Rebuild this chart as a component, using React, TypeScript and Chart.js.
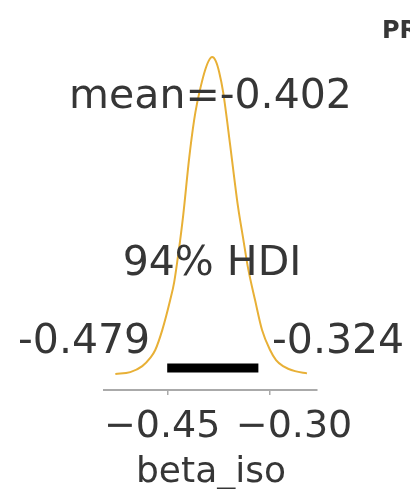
import React, { useEffect, useRef } from "react";
import { Chart, registerables } from "chart.js";

Chart.register(...registerables);

// Posterior density of beta_iso (x value, density)
const curveX = [
  -0.5279, -0.5059, -0.4882, -0.4765, -0.4691, -0.4588, -0.4471, -0.4412, -0.4353,
  -0.4279, -0.4191, -0.4118, -0.4074, -0.4015, -0.3956, -0.3904, -0.3853, -0.3801,
  -0.375, -0.3691, -0.3588, -0.3529, -0.3471, -0.3397, -0.3324, -0.3221, -0.3118,
  -0.3, -0.2912, -0.2809, -0.2632, -0.2456,
];
const curveY = [
  0.0, 0.06, 0.25, 0.51, 0.76, 1.39, 2.34, 2.91, 3.77, 5.03, 6.84, 8.04, 8.58, 9.15,
  9.62, 9.91, 10.03, 9.91, 9.56, 8.92, 7.25, 6.23, 5.28, 4.3, 3.35, 2.34, 1.39, 0.76,
  0.44, 0.25, 0.09, 0.02,
];
// HDI bar as drawn
const hdiBarX = [-0.4515, -0.3172];
const hdiBarY = 0.19;
// Axis
const xMin = -0.5446;
const xMax = -0.2313;
const yMin = -0.506;
const yMax = 10.57;
const tickValues = [-0.45, -0.3];
const tickLabels = ["\u22120.45", "\u22120.30"];
// Texts
const meanLabel = "mean=-0.402";
const hdiLabel = "94% HDI";
const hdiLowLabel = "-0.479";
const hdiHighLabel = "-0.324";
const axisLabel = "beta_iso";
const titleFragment = "PR";

const FONT = "'DejaVu Sans', sans-serif";
const TEXT_COLOR = "#363636";

export default function App() {
  const ref = useRef<HTMLCanvasElement | null>(null);

  useEffect(() => {
    document.body.style.margin = "0";
    const canvas = ref.current!;
    const textPlugin = {
      id: "texts",
      afterDatasetsDraw(chart: any) {
        const ctx = chart.ctx as CanvasRenderingContext2D;
        const xs = chart.scales.x;
        ctx.save();
        ctx.fillStyle = TEXT_COLOR;
        ctx.textBaseline = "alphabetic";
        ctx.font = `41px ${FONT}`;
        ctx.textAlign = "center";
        ctx.fillText(meanLabel, 210.5, 108);
        ctx.fillText(hdiLabel, 212, 275);
        ctx.textAlign = "left";
        ctx.fillText(hdiLowLabel, 18, 353);
        ctx.fillText(hdiHighLabel, 272, 353);
        // tick labels
        ctx.font = `38px ${FONT}`;
        ctx.textAlign = "center";
        const labelShift = [-6, 24];
        tickValues.forEach((v, i) => {
          ctx.fillText(tickLabels[i], xs.getPixelForValue(v) + labelShift[i], 437);
        });
        ctx.font = `36px ${FONT}`;
        ctx.fillText(axisLabel, 211, 482);
        ctx.font = `bold 24px ${FONT}`;
        ctx.textAlign = "left";
        ctx.fillText(titleFragment, 382, 38);
        ctx.restore();
      },
    };

    const chart = new Chart(canvas, {
      type: "line",
      data: {
        datasets: [
          {
            data: curveX.map((x, i) => ({ x, y: curveY[i] })),
            borderColor: "#e8b036",
            borderWidth: 2,
            pointRadius: 0,
            cubicInterpolationMode: "monotone",
            fill: false,
          },
          {
            data: hdiBarX.map((x) => ({ x, y: hdiBarY })),
            borderColor: "#000000",
            borderWidth: 9,
            pointRadius: 0,
            borderCapStyle: "butt",
            fill: false,
          },
        ],
      },
      options: {
        animation: false,
        responsive: false,
        maintainAspectRatio: false,
        layout: { padding: { left: 104, right: 93.3, top: 40, bottom: 0 } },
        plugins: { legend: { display: false }, tooltip: { enabled: false } },
        scales: {
          x: {
            type: "linear",
            min: xMin,
            max: xMax,
            afterBuildTicks: (s: any) => {
              s.ticks = tickValues.map((value) => ({ value }));
            },
            afterFit: (s: any) => {
              s.height = 99;
            },
            grid: {
              display: true,
              drawOnChartArea: false,
              drawTicks: true,
              tickLength: 5,
              tickColor: "#aaaaaa",
              lineWidth: 1.5,
            },
            border: { display: true, color: "#aaaaaa", width: 2 },
            ticks: { display: false },
          },
          y: {
            type: "linear",
            display: false,
            min: yMin,
            max: yMax,
          },
        },
      },
      plugins: [textPlugin],
    } as any);
    return () => chart.destroy();
  }, []);

  return (
    <div style={{ position: "absolute", left: 0, top: 0, width: 410, height: 489 }}>
      <canvas ref={ref} width={410} height={489} style={{ width: 410, height: 489, display: "block" }} />
    </div>
  );
}
